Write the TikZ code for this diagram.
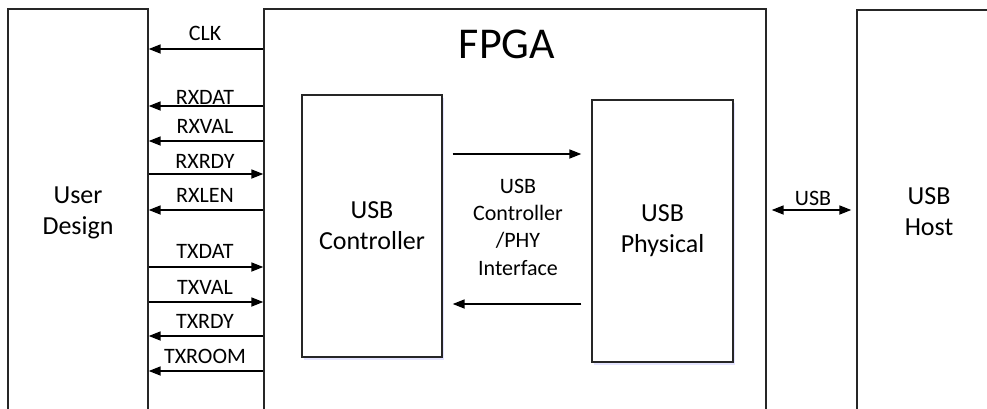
\documentclass[tikz,border=0pt]{standalone}
\usepackage{fontspec}
\setmainfont{Carlito}
\usetikzlibrary{arrows.meta,shadows}

\begin{document}
\begin{tikzpicture}[x=1pt,y=-1pt,
    bloque/.style={draw=black!85, line width=1.3pt, fill=white, inner sep=0pt, align=center,
      font=\fontsize{26}{31}\selectfont},
    sombra/.style={drop shadow={shadow xshift=2pt, shadow yshift=-2.5pt, fill=blue!30, opacity=0.35}},
    senal/.style={line width=1.7pt, -{Triangle[length=12pt,width=9pt]}},
    doble/.style={line width=1.7pt, {Triangle[length=12pt,width=9pt]}-{Triangle[length=12pt,width=9pt]}},
    etiqueta/.style={font=\fontsize{22}{26}\selectfont, anchor=base}]
    \useasboundingbox (0,0) rectangle (987,408);
    \clip (0,0) rectangle (987,408);
    % Bloques grandes
    \node[bloque, minimum width=140pt, minimum height=408pt] (user) at (78,213) {User\\Design};
    \node[bloque, minimum width=502pt, minimum height=402pt] (fpga) at (515,210) {};
    \node[bloque, minimum width=144pt, minimum height=404pt] (host) at (929,212) {USB\\Host};
    \node[font=\fontsize{44}{52}\selectfont] (titulo) at (507,44) {FPGA};
    % Bloques dentro de la FPGA
    \node[bloque, sombra, minimum width=140pt, minimum height=262pt] (ctrl) at (372,226) {USB\\Controller};
    \node[bloque, sombra, minimum width=141pt, minimum height=262pt] (phy) at (662.5,231) {USB\\Physical};
    % Interfaz controlador / PHY
    \draw[senal, shorten <=10pt, shorten >=10pt] (ctrl.east |- 0,154) -- (phy.west |- 0,154);
    \draw[senal, shorten <=10pt, shorten >=10pt] (phy.west |- 0,304) -- (ctrl.east |- 0,304);
    \node[font=\fontsize{22}{27.3}\selectfont, align=center] (interfaz) at (518,227)
      {USB\\Controller\\/PHY\\Interface};
    % Senales hacia User Design
    \foreach \y/\yl/\nombre in {49/40/CLK, 106/104/RXDAT, 141/133/RXVAL, 210/202/RXLEN,
        336/328/TXRDY, 371/363/TXROOM} {
      \draw[senal] (fpga.west |- 0,\y) -- (user.east |- 0,\y);
      \node[etiqueta] (l\nombre) at (205,\yl) {\nombre};
    }
    % Senales hacia la FPGA
    \foreach \y/\yl/\nombre in {174/168/RXRDY, 267/258/TXDAT, 302/294/TXVAL} {
      \draw[senal] (user.east |- 0,\y) -- (fpga.west |- 0,\y);
      \node[etiqueta] (l\nombre) at (205,\yl) {\nombre};
    }
    % Enlace USB
    \draw[doble, shorten <=5pt, shorten >=5pt] (fpga.east |- 0,210) -- (host.west |- 0,210);
    \node[etiqueta] (lusb) at (813,205) {USB};
  \end{tikzpicture}
\end{document}
